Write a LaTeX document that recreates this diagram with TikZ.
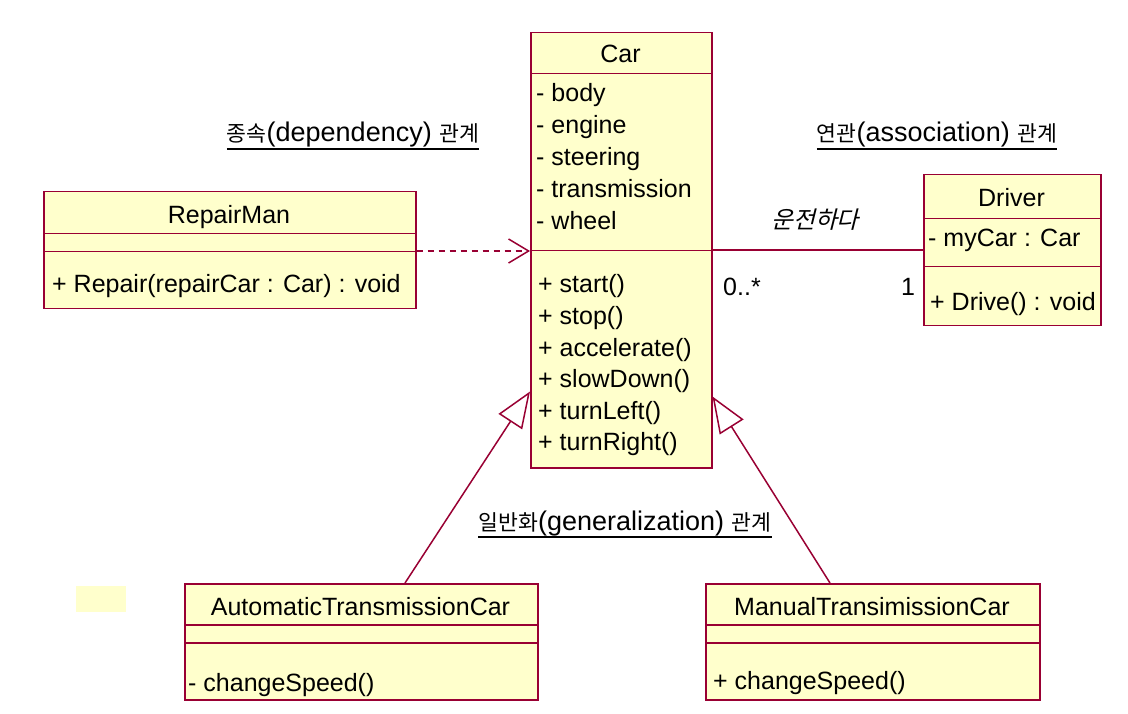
\documentclass[tikz,border=0pt]{standalone}
\usepackage{fontspec}
\setmainfont{Liberation Sans}
\newfontfamily\kr[Scale=0.8]{Noto Sans CJK KR}
\newfontfamily\krit[Scale=0.95,FakeSlant=0.25]{Noto Sans CJK KR}
\usetikzlibrary{arrows.meta,calc}
\definecolor{umlline}{HTML}{990033}
\definecolor{umlfill}{HTML}{FFFFCC}
\begin{document}
\begin{tikzpicture}[x=1pt,y=-1pt,
  every node/.style={inner sep=0pt, font=\fontsize{25}{30}\selectfont},
  comp/.style={draw=umlline, fill=umlfill, line width=1.5pt, anchor=north west},
  txt/.style={anchor=base west},
  ttl/.style={anchor=base},
  lbl/.style={anchor=base},
  captext/.style={anchor=base, font=\fontsize{27}{30}\selectfont},
  uline/.style={draw=black, line width=1.3pt},
  dep/.style={draw=umlline, line width=1.5pt, dash pattern=on 6pt off 5pt,
    -{Straight Barb[length=20pt,width=24pt,line width=1.5pt]}},
  gen/.style={draw=umlline, line width=1.5pt,
    -{Triangle[open,length=36pt,width=28pt,line width=1.5pt]}},
  assoc/.style={draw=umlline, line width=1.5pt}]
\useasboundingbox (0,0) rectangle (1128,714);
\fill[white] (0,0) rectangle (1128,714);

% small yellow patch
\fill[umlfill] (76,586) rectangle (126,612);

% Car
\node[comp, minimum width=181pt, minimum height=41pt]  (carT) at (530,32) {};
\node[comp, minimum width=181pt, minimum height=177pt] (carA) at (530,73) {};
\node[comp, minimum width=181pt, minimum height=217pt] (carO) at (530,250) {};
% RepairMan
\node[comp, minimum width=372pt, minimum height=42pt] (repT) at (43,191) {};
\node[comp, minimum width=372pt, minimum height=18pt] (repA) at (43,233) {};
\node[comp, minimum width=372pt, minimum height=57pt] (repO) at (43,251) {};
% Driver
\node[comp, minimum width=177pt, minimum height=44pt] (drvT) at (923,174) {};
\node[comp, minimum width=177pt, minimum height=48pt] (drvA) at (923,218) {};
\node[comp, minimum width=177pt, minimum height=59pt] (drvO) at (923,266) {};
% AutomaticTransmissionCar
\node[comp, minimum width=353pt, minimum height=41pt] (autT) at (184,583) {};
\node[comp, minimum width=353pt, minimum height=18pt] (autA) at (184,624) {};
\node[comp, minimum width=353pt, minimum height=57pt] (autO) at (184,642) {};
% ManualTransimissionCar
\node[comp, minimum width=334pt, minimum height=41pt] (manT) at (705,583) {};
\node[comp, minimum width=334pt, minimum height=18pt] (manA) at (705,624) {};
\node[comp, minimum width=334pt, minimum height=57pt] (manO) at (705,642) {};

% connectors
\draw[dep] (repO.north east) -- (repO.north east -| carO.west);
\draw[assoc] (carO.north east) -- (carO.north east -| drvA.west);
\draw[gen] ($(autT.north west)+(221,0)$) -- ($(carO.south west)+(0,-77)$);
\draw[gen] ($(manT.north west)+(125,0)$) -- ($(carO.south east)+(0,-72)$);

% Car texts
\node[ttl] (carName) at (620.5,63) {Car};
\foreach \t [count=\i] in {- body,- engine,- steering,- transmission,- wheel}
  \node[txt] (carAttr\i) at (536,{102+32*(\i-1)}) {\t};
\foreach \t [count=\i] in {+ start(),+ stop(),+ accelerate(),+ slowDown(),+ turnLeft(),+ turnRight()}
  \node[txt] (carOp\i) at (538,{293+31.5*(\i-1)}) {\t};

% RepairMan texts
\node[ttl] (repName) at (229,224) {RepairMan};
\node[txt] (repOp) at (52,293) {+ Repair(repairCar : Car) : void};

% Driver texts
\node[ttl] (drvName) at (1011.5,207) {Driver};
\node[txt] (drvAttr) at (928,247) {- myCar : Car};
\node[txt] (drvOp) at (930,310) {+ Drive() : void};

% Subclass texts
\node[ttl] (autName) at (360.5,615) {AutomaticTransmissionCar};
\node[txt] (autOp) at (188,691) {- changeSpeed()};
\node[ttl] (manName) at (872,615) {ManualTransimissionCar};
\node[txt] (manOp) at (713,689) {+ changeSpeed()};

% association labels
\node[lbl] (assocName) at (815,229) {\krit 운전하다};
\node[txt] (multCar) at (723,296) {0..*};
\node[lbl] (multDrv) at (908,296) {1};

% relation captions
\node[captext] (capDep) at (353,142) {{\kr 종속}(dependency) {\kr 관계}};
\node[captext] (capAssoc) at (937,142) {{\kr 연관}(association) {\kr 관계}};
\node[captext] (capGen) at (625,530) {{\kr 일반화}(generalization) {\kr 관계}};
\foreach \c in {capDep,capAssoc,capGen}
  \draw[uline] ($(\c.base west)+(0,7)$) -- ($(\c.base east)+(0,7)$);
\end{tikzpicture}
\end{document}
